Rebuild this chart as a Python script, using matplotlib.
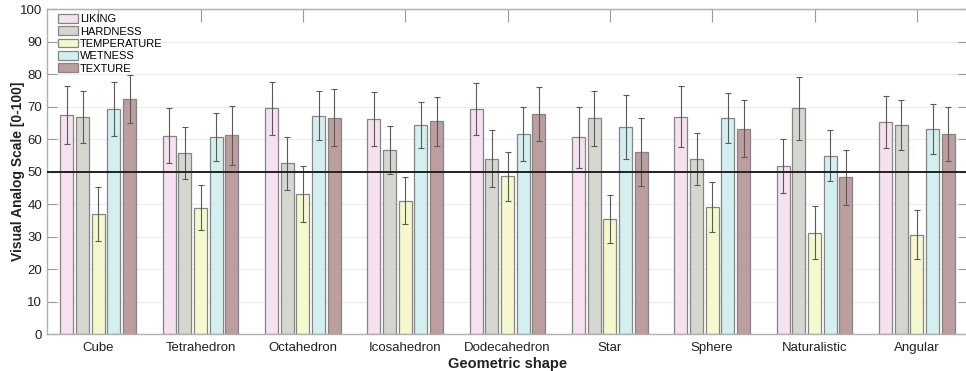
import matplotlib
matplotlib.use("Agg")
import matplotlib.pyplot as plt
import numpy as np

plt.rcParams['font.family'] = ['Liberation Sans', 'DejaVu Sans']

shapes = ["Cube", "Tetrahedron", "Octahedron", "Icosahedron", "Dodecahedron",
          "Star", "Sphere", "Naturalistic", "Angular"]
series = ["LIKING", "HARDNESS", "TEMPERATURE", "WETNESS", "TEXTURE"]
colors = ["#f5e1ef", "#d4d7cf", "#f4f8cc", "#d4eff0", "#bc9e9e"]

liking      = [67.4, 61.0, 69.4, 66.2, 69.2, 60.5, 66.9, 51.6, 65.1]
hardness    = [66.7, 55.6, 52.5, 56.6, 54.0, 66.4, 53.8, 69.4, 64.2]
temperature = [36.8, 38.9, 43.1, 41.0, 48.5, 35.3, 39.1, 31.2, 30.6]
wetness     = [69.2, 60.6, 67.2, 64.2, 61.5, 63.7, 66.5, 54.9, 63.0]
texture     = [72.2, 61.1, 66.6, 65.4, 67.7, 56.1, 63.2, 48.2, 61.5]

liking_err      = [8.8, 8.4, 8.2, 8.2, 8.0, 9.5, 9.4, 8.3, 8.0]
hardness_err    = [8.0, 8.0, 8.2, 7.5, 8.7, 8.4, 7.9, 9.7, 7.7]
temperature_err = [8.3, 6.8, 8.5, 7.2, 7.5, 7.4, 7.6, 8.2, 7.6]
wetness_err     = [8.2, 7.5, 7.6, 7.1, 8.2, 9.7, 7.8, 7.9, 7.7]
texture_err     = [7.4, 9.1, 8.7, 7.6, 8.4, 10.5, 8.8, 8.4, 8.2]

values = [liking, hardness, temperature, wetness, texture]
errors = [liking_err, hardness_err, temperature_err, wetness_err, texture_err]

fig = plt.figure(figsize=(9.66, 3.71), dpi=100)
ax = fig.add_axes([0.0487, 0.0997, 0.9534, 0.876])

x = np.arange(1, len(shapes) + 1)
pitch = 0.153
width = 0.127
for i, (name, vals, errs, c) in enumerate(zip(series, values, errors, colors)):
    pos = x + (i - 2) * pitch
    ax.bar(pos, vals, width=width, color=c, edgecolor="#858585", linewidth=0.9,
           label=name, zorder=2)
    ax.errorbar(pos, vals, yerr=errs, fmt="none", ecolor="#5a5a5a",
                elinewidth=0.8, capsize=2, capthick=0.8, zorder=3)

ax.axhline(50, color="#222222", linewidth=1.4, zorder=4)

ax.set_xlim(0.5, 9.5)
ax.set_ylim(0, 100)
ax.set_yticks(np.arange(0, 101, 10))
ax.set_xticks(x)
ax.set_xticklabels(shapes, fontsize=9.5)
ax.tick_params(axis='y', labelsize=9.5, direction='in', length=7, color="#999999",
               right=True, labelcolor="#222222")
ax.tick_params(axis='x', direction='in', length=0, top=False, pad=6,
               labelcolor="#222222")
ax.yaxis.grid(True, color="#ececec", linewidth=0.8, zorder=0)
ax.set_axisbelow(True)

for s in ax.spines.values():
    s.set_color("#b0b0b0")
    s.set_linewidth(1.0)

# top tick marks at category positions
secx = ax.secondary_xaxis('top')
secx.set_xticks(x)
secx.set_xticklabels([])
secx.tick_params(direction='in', length=9, color="#999999")
secx.spines['top'].set_color("#b0b0b0")

ax.set_ylabel("Visual Analog Scale [0-100]", fontsize=10, fontweight='bold',
              labelpad=-4, color="#222222")
ax.set_xlabel("Geometric shape", fontsize=10.5, fontweight='bold', labelpad=2,
              color="#222222")

leg = ax.legend(loc='upper left', bbox_to_anchor=(0.005, 1.005), frameon=False,
                fontsize=8.0, handlelength=1.8, handleheight=0.8,
                handletextpad=0.15, labelspacing=0.2, borderaxespad=0.2)

fig.savefig("out.png", dpi=100)
